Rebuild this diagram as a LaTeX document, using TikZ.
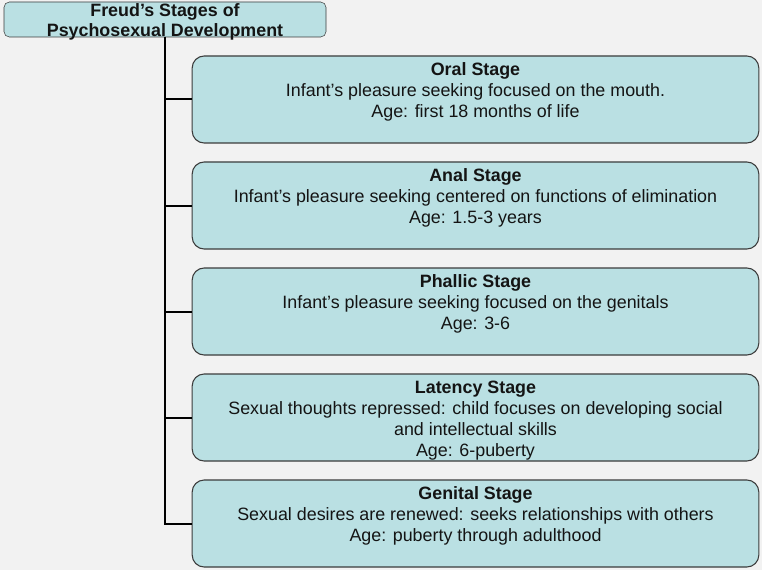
\documentclass[tikz,border=0pt]{standalone}
\usepackage{fontspec}
\setmainfont{Liberation Sans}
\usetikzlibrary{positioning}
\definecolor{fsdteal}{RGB}{186,224,227}
\definecolor{fsdedge}{RGB}{60,60,60}
\definecolor{fsdback}{RGB}{242,242,242}
\definecolor{fsdtext}{RGB}{20,20,20}
\newcommand{\stagetext}[2]{\parbox[c][55pt][t]{420pt}{\centering
  \textbf{#1}\\#2}}
\newcommand{\headtext}[1]{\raisebox{-13pt}[0pt][0pt]{\parbox[b]{241pt}{\centering #1}}}
\tikzset{
  headbox/.style={draw=fsdedge,fill=fsdteal,rounded corners=4pt,
                  minimum width=241.5pt,minimum height=26.25pt,
                  inner sep=0pt,align=center,text=fsdtext,
                  font=\bfseries\fontsize{13.4}{15}\selectfont},
  stagebox/.style={draw=fsdedge,fill=fsdteal,rounded corners=9pt,
                   minimum width=425pt,minimum height=65.25pt,
                   inner sep=0pt,text=fsdtext,line width=0.8pt,
                   font=\fontsize{13.4}{15.75}\selectfont},
  branch/.style={line width=1.5pt,color=black},
}
\begin{document}
\begin{tikzpicture}[x=0.75pt,y=-0.75pt,node distance=13.45pt]
  \useasboundingbox[fill=fsdback] (0,0) rectangle (762,570);

  \node[headbox] (freud) at (165,19.5)
    {\headtext{Freud's Stages of\\Psychosexual Development}};

  \node[stagebox] (oral) at (475.5,99.5)
    {\stagetext{Oral Stage}{Infant's pleasure seeking focused on the mouth.\\Age: first 18 months of life}};
  \node[stagebox,below=of oral] (anal)
    {\stagetext{Anal Stage}{Infant's pleasure seeking centered on functions of elimination\\Age: 1.5-3 years}};
  \node[stagebox,below=of anal] (phallic)
    {\stagetext{Phallic Stage}{Infant's pleasure seeking focused on the genitals\\Age: 3-6}};
  \node[stagebox,below=of phallic] (latency)
    {\stagetext{Latency Stage}{Sexual thoughts repressed: child focuses on developing social\\and intellectual skills\\Age: 6-puberty}};
  \node[stagebox,below=of latency] (genital)
    {\stagetext{Genital Stage}{Sexual desires are renewed: seeks relationships with others\\Age: puberty through adulthood}};

  % trunk and branches
  \foreach \s in {oral,anal,phallic,latency,genital}
    \draw[branch] (freud.south) |- (\s.west);
\end{tikzpicture}
\end{document}
